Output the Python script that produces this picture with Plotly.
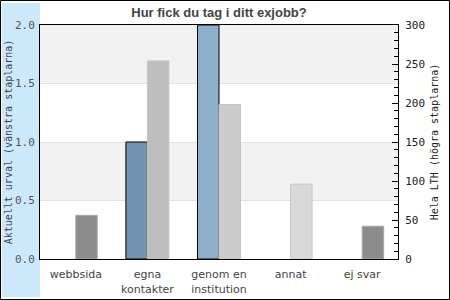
import plotly.graph_objects as go

categories = ["webbsida", "egna<br>kontakter", "genom en<br>institution", "annat", "ej svar"]
urval_values = [0, 1, 2, 0, 0]
lth_values = [56, 254, 198, 96, 42]
urval_colors = ["#7393B0", "#7393B0", "#8FB0CC", "#8FB0CC", "#8FB0CC"]
lth_colors = ["#8C8C8C", "#BEBEBE", "#CCCCCC", "#D9D9D9", "#8C8C8C"]
lth_line_colors = ["#A8A8A8", "#C4C4C4", "#C4C4C4", "#C8C8C8", "#A8A8A8"]

L, R, T, B = 40, 52, 25, 41
W, H = 450, 300
pw, ph = W - L - R, H - T - B

def px(x):
    return (x - L) / pw

def py(y):
    return (H - B - y) / ph

fig = go.Figure()
fig.add_trace(go.Bar(
    x=categories, y=[v if v else None for v in urval_values], offsetgroup="1",
    marker=dict(color=urval_colors, line=dict(color="black", width=1)),
    yaxis="y", showlegend=False,
))
fig.add_trace(go.Bar(
    x=categories, y=lth_values, offsetgroup="2",
    marker=dict(color=lth_colors, line=dict(color=lth_line_colors, width=1)),
    yaxis="y2", showlegend=False,
))

shapes = [
    dict(type="rect", xref="paper", yref="paper", x0=px(2), x1=0, y0=py(297), y1=py(3),
         fillcolor="#CCE8FB", line=dict(width=0), layer="below"),
    dict(type="rect", xref="paper", yref="y", x0=0, x1=1, y0=0.5, y1=1.0,
         fillcolor="#F2F2F2", line=dict(width=0), layer="below"),
    dict(type="rect", xref="paper", yref="y", x0=0, x1=1, y0=1.5, y1=2.0,
         fillcolor="#F2F2F2", line=dict(width=0), layer="below"),
    dict(type="rect", xref="paper", yref="paper", x0=px(0.5), x1=px(449.5), y0=py(299.5), y1=py(0.5),
         line=dict(color="black", width=1), fillcolor="rgba(0,0,0,0)"),
]

fig.update_layout(
    width=W, height=H,
    margin=dict(l=L, r=R, t=T, b=B, autoexpand=False),
    paper_bgcolor="white", plot_bgcolor="white",
    barmode="group", bargap=0.4, bargroupgap=0,
    shapes=shapes,
    title=dict(text="<b>Hur fick du tag i ditt exjobb?</b>", x=(219) / W, xanchor="center",
               y=1 - 12 / H, yanchor="middle",
               font=dict(family="Liberation Sans", size=13, color="#444444")),
    xaxis=dict(showline=True, linecolor="black", linewidth=1, mirror=True, ticks="",
               ticklabelstandoff=5, automargin=False,
               tickfont=dict(family="DejaVu Sans", size=11, color="#444444"),
               showgrid=False),
    yaxis=dict(range=[0, 2], dtick=0.5, tickformat=".1f", showline=True, linecolor="black",
               linewidth=1, ticks="", showgrid=True, gridcolor="#E2E2E2", zeroline=False,
               ticklabelstandoff=2, automargin=False,
               tickfont=dict(family="DejaVu Sans Mono", size=11, color="#555555"),
               title=dict(text="Aktuellt urval (vänstra staplarna)", standoff=0,
                          font=dict(family="DejaVu Sans Mono", size=10, color="#444444"))),
    yaxis2=dict(range=[0, 300], dtick=50, overlaying="y", side="right", showline=True,
                linecolor="black", linewidth=1, ticks="inside", ticklen=6, tickcolor="black",
                showgrid=False, zeroline=False, ticklabelstandoff=4, automargin=False,
                minor=dict(dtick=10, ticks="inside", ticklen=4, tickcolor="black"),
                tickfont=dict(family="DejaVu Sans Mono", size=11, color="#222222"),
                title=dict(text="Hela LTH (högra staplarna)", standoff=6,
                           font=dict(family="DejaVu Sans Mono", size=10, color="#222222"))),
)

fig.write_html("out.html")
